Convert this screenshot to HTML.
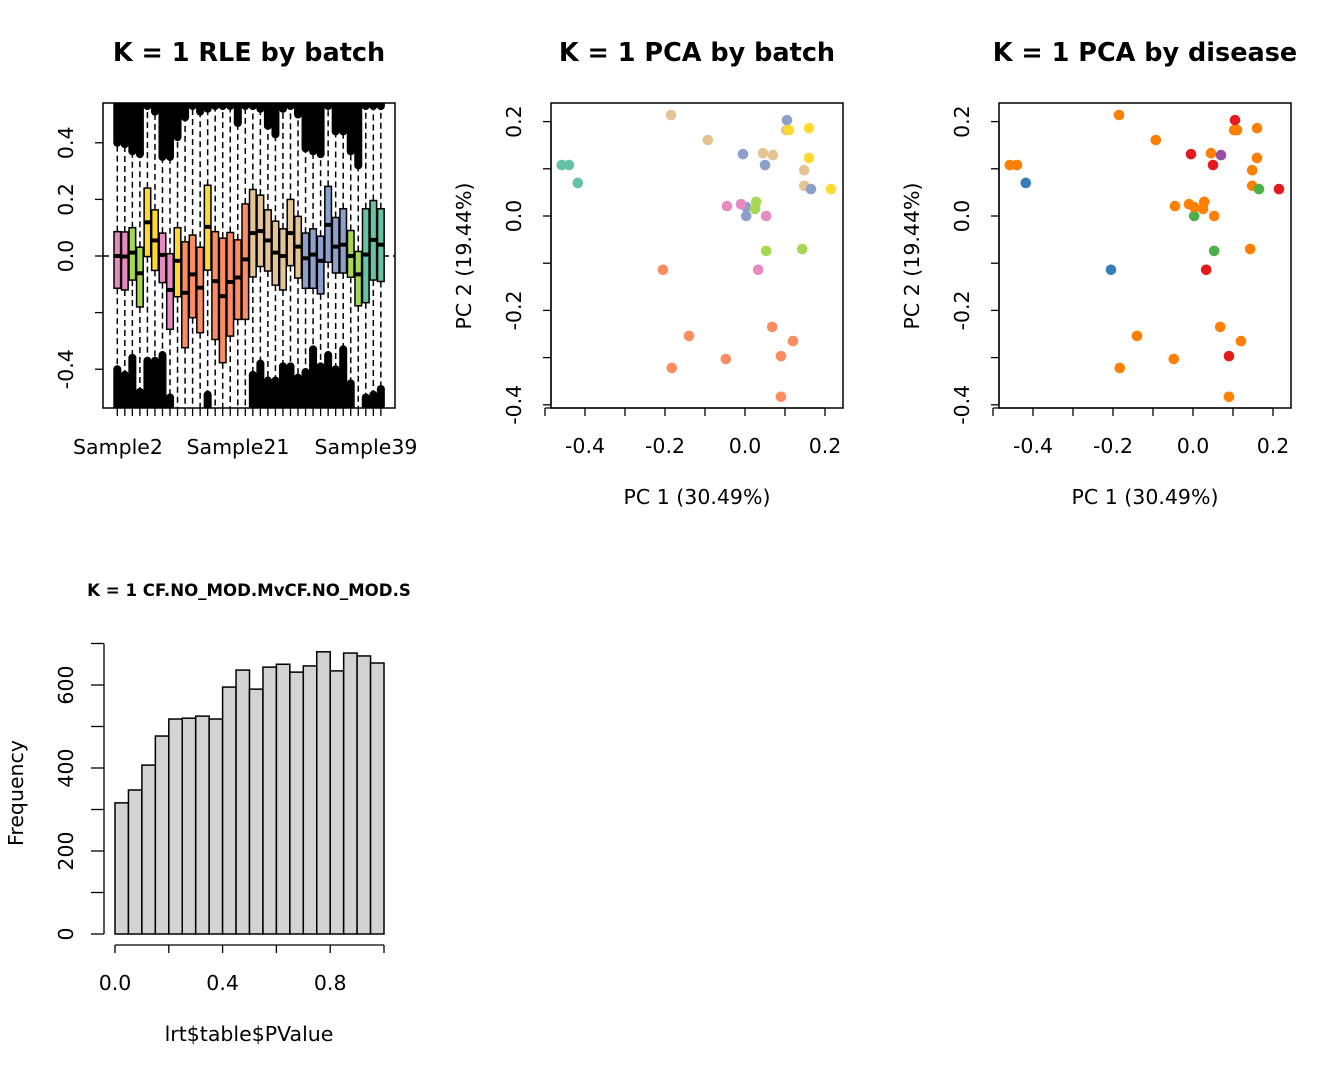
<!DOCTYPE html>
<html><head><meta charset="utf-8"><style>
html,body{margin:0;padding:0;background:#fff}
svg{display:block;font-family:"DejaVu Sans","Liberation Sans",sans-serif}
</style></head><body>
<svg id="c" width="1344" height="1075" viewBox="0 0 1344 1075">
<defs><clipPath id="rleclip"><rect x="103" y="103" width="292" height="305"/></clipPath></defs>
</svg>
<script>
// ---------- RLE data ----------
const rleColors = ["#E78AC3","#E78AC3","#A6D854","#A6D854","#FFD92F","#FFD92F","#E78AC3","#E78AC3","#FFD92F","#FC8D62","#FC8D62","#FC8D62","#FFD92F","#FC8D62","#FC8D62","#FC8D62","#FC8D62","#FC8D62","#E5C494","#E5C494","#E5C494","#E5C494","#E5C494","#E5C494","#E5C494","#8DA0CB","#8DA0CB","#8DA0CB","#8DA0CB","#8DA0CB","#8DA0CB","#A6D854","#A6D854","#66C2A5","#66C2A5","#66C2A5"];
const rleQ3 = [0.086,0.085,0.10,0.031,0.24,0.163,0.081,0.008,0.10,0.05,0.074,0.031,0.25,0.086,0.063,0.083,0.057,0.184,0.235,0.215,0.163,0.123,0.096,0.20,0.14,0.081,0.096,0.07,0.246,0.136,0.167,0.09,0.016,0.167,0.196,0.167];
const rleMed = [0,-0.002,0.012,-0.061,0.119,0.055,0.004,-0.12,-0.017,-0.13,-0.065,-0.112,0.103,-0.089,-0.142,-0.092,-0.076,-0.012,0.081,0.088,0.055,0.012,0,0.081,0.033,-0.008,0.005,-0.017,0.11,0.033,0.04,0,-0.065,0.005,0.057,0.04];
const rleQ1 = [-0.114,-0.12,-0.085,-0.18,-0.002,-0.051,-0.094,-0.259,-0.144,-0.324,-0.218,-0.271,-0.05,-0.295,-0.377,-0.283,-0.224,-0.224,-0.074,-0.037,-0.053,-0.103,-0.12,-0.034,-0.078,-0.114,-0.114,-0.134,-0.022,-0.06,-0.06,-0.075,-0.176,-0.165,-0.085,-0.09];
const rleUpperOut = [0.40,0.395,0.37,0.36,0.53,0.51,0.35,0.35,0.42,0.49,0.53,0.51,0.52,0.53,0.53,0.53,0.47,0.53,0.53,0.52,0.46,0.43,0.52,0.53,0.50,0.38,0.37,0.36,0.53,0.44,0.44,0.37,0.32,0.53,0.53,0.53];
const rleLowerOut = [-0.40,-0.42,-0.36,-0.48,-0.37,-0.37,-0.35,-0.50,-0.56,-0.56,-0.56,-0.56,-0.49,-0.56,-0.56,-0.56,-0.56,-0.56,-0.42,-0.38,-0.44,-0.44,-0.39,-0.39,-0.43,-0.41,-0.33,-0.39,-0.35,-0.40,-0.33,-0.45,-0.56,-0.50,-0.49,-0.47];
const rleTicks = [-0.4,-0.2,0.0,0.2,0.4];
// ---------- PCA data ----------
const pcX = [-0.458,-0.44,-0.418,-0.185,-0.093,0.045,0.07,0.103,0.148,0.148,0.105,-0.005,0.05,0.003,0.003,0.165,0.11,0.16,0.16,0.215,-0.045,-0.01,0.053,0.033,0.028,0.025,0.053,0.143,-0.205,-0.14,-0.183,-0.048,0.068,0.12,0.09,0.09];
const pcY = [0.108,0.108,0.07,0.214,0.161,0.133,0.129,0.182,0.097,0.064,0.203,0.131,0.108,0,0.019,0.057,0.182,0.186,0.123,0.057,0.021,0.025,0,-0.114,0.030,0.015,-0.074,-0.07,-0.114,-0.254,-0.322,-0.303,-0.235,-0.265,-0.297,-0.383];
const batchCol = ["#66C2A5","#66C2A5","#66C2A5","#E5C494","#E5C494","#E5C494","#E5C494","#E5C494","#E5C494","#E5C494","#8DA0CB","#8DA0CB","#8DA0CB","#8DA0CB","#8DA0CB","#8DA0CB","#FFD92F","#FFD92F","#FFD92F","#FFD92F","#E78AC3","#E78AC3","#E78AC3","#E78AC3","#A6D854","#A6D854","#A6D854","#A6D854","#FC8D62","#FC8D62","#FC8D62","#FC8D62","#FC8D62","#FC8D62","#FC8D62","#FC8D62"];
const diseaseCol = ["#FF7F00","#FF7F00","#377EB8","#FF7F00","#FF7F00","#FF7F00","#984EA3","#FF7F00","#FF7F00","#FF7F00","#E41A1C","#E41A1C","#E41A1C","#4DAF4A","#FF7F00","#4DAF4A","#FF7F00","#FF7F00","#FF7F00","#E41A1C","#FF7F00","#FF7F00","#FF7F00","#E41A1C","#FF7F00","#FF7F00","#4DAF4A","#FF7F00","#377EB8","#FF7F00","#FF7F00","#FF7F00","#FF7F00","#FF7F00","#E41A1C","#FF7F00"];
const pcXTicks = [-0.4,-0.2,0.0,0.2];
const pcYTicks = [-0.4,-0.2,0.0,0.2];
// ---------- Histogram data ----------
const histBreaks = [0,0.05,0.1,0.15,0.2,0.25,0.3,0.35,0.4,0.45,0.5,0.55,0.6,0.65,0.7,0.75,0.8,0.85,0.9,0.95,1.0];
const histCounts = [316,347,407,477,518,520,525,518,595,636,590,643,650,631,646,680,634,677,670,653];
const histXTicks = [0,0.2,0.4,0.6,0.8,1.0];
const histXLabels = ["0.0","","0.4","","0.8",""];
const histYTicks = [0,100,200,300,400,500,600,700];
const histYLabels = ["0","","200","","400","","600",""];

const svg = document.getElementById('c');
const NS = "http://www.w3.org/2000/svg";
const FS = 20.5;
function mk(tag, attrs, parent){const e=document.createElementNS(NS,tag);for(const k in attrs)e.setAttribute(k,attrs[k]);(parent||svg).appendChild(e);return e;}
function txt(s,x,y,size,opts,parent){const t=mk('text',Object.assign({x:x,y:y,'font-size':size,'text-anchor':'middle',fill:'#000'},opts||{}),parent);t.textContent=s;return t;}

// ===== RLE panel =====
const rle = mk('g',{});


const rc = mk('g',{'clip-path':'url(#rleclip)'},rle);
const rY = v => 256 - v*283;
const rX = i => 117.3 + i*7.53;
const R_TOP=103, R_BOT=408;
for(let i=0;i<rleQ3.length;i++){
  const x=rX(i);
  const up = mk('rect',{x:x-4,y:R_TOP-5,width:8,height:Math.max(0,rY(rleUpperOut[i])-R_TOP+5),fill:'#000'},rc);
  
  
  mk('circle',{cx:x,cy:rY(rleUpperOut[i]),r:4,fill:'#000'},rc);
  const lo = mk('rect',{x:x-4,y:rY(rleLowerOut[i]),width:8,height:Math.max(0,R_BOT-rY(rleLowerOut[i])+5),fill:'#000'},rc);
  
  
  mk('circle',{cx:x,cy:rY(rleLowerOut[i]),r:4,fill:'#000'},rc);
  mk('line',{x1:x,x2:x,y1:rY(rleQ3[i]),y2:rY(rleUpperOut[i]),stroke:'#000','stroke-width':1.5,'stroke-dasharray':'6,4'},rc);
  mk('line',{x1:x,x2:x,y1:rY(rleQ1[i]),y2:rY(rleLowerOut[i]),stroke:'#000','stroke-width':1.5,'stroke-dasharray':'6,4'},rc);
}
mk('line',{x1:103,x2:395,y1:rY(0),y2:rY(0),stroke:'#000','stroke-width':1.5,'stroke-dasharray':'6,4'},rc);
for(let i=0;i<rleQ3.length;i++){
  const x=rX(i);
  const b = mk('rect',{x:x-3.3,y:rY(rleQ3[i]),width:6.6,height:rY(rleQ1[i])-rY(rleQ3[i]),fill:rleColors[i],stroke:'#000','stroke-width':1.5},rle);
  
  
  mk('line',{x1:x-3.3,x2:x+3.3,y1:rY(rleMed[i]),y2:rY(rleMed[i]),stroke:'#000','stroke-width':4},rle);
  mk('line',{x1:x,x2:x,y1:R_BOT,y2:R_BOT+8,stroke:'#000','stroke-width':1.3},rle);
}
mk('rect',{x:103,y:103,width:292,height:305,fill:'none',stroke:'#000','stroke-width':1.5},rle);
mk('line',{x1:rX(0),x2:rX(rleQ3.length-1),y1:R_BOT,y2:R_BOT,stroke:'#000','stroke-width':1},rle);
rleTicks.forEach(v=>{
  mk('line',{x1:95,x2:103,y1:rY(v),y2:rY(v),stroke:'#000','stroke-width':1.3},rle);
  if(v!==-0.2) txt(v.toFixed(1),0,0,FS,{transform:`translate(73,${rY(v)}) rotate(-90)`},rle);
});
txt('Sample2',118,454,FS,{},rle);
txt('Sample21',238,454,FS,{},rle);
txt('Sample39',366,454,FS,{},rle);
const t1=txt('K = 1 RLE by batch',249,61,25.5,{'font-weight':'bold'},rle);


// ===== PCA panels =====
function pca(ox, cols, title, name){
  const g = mk('g',{});
  
  
  const X = v => ox + 745 + v*400;
  const Y = v => 216 - v*472;
  for(let i=0;i<pcX.length;i++){
    const p = mk('circle',{cx:X(pcX[i]),cy:Y(pcY[i]),r:5.3,fill:cols[i]},g);
    
    
  }
  mk('rect',{x:ox+551,y:103,width:292,height:305,fill:'none',stroke:'#000','stroke-width':1.5},g);
  mk('line',{x1:X(-0.5),x2:X(0.2),y1:408,y2:408,stroke:'#000','stroke-width':1.3},g);
  for(let v=-0.5; v<=0.201; v+=0.1){
    mk('line',{x1:X(v),x2:X(v),y1:408,y2:416,stroke:'#000','stroke-width':1.3},g);
  }
  pcXTicks.forEach(v=>txt(v.toFixed(1),X(v),453,FS,{},g));
  mk('line',{x1:ox+551,x2:ox+551,y1:Y(-0.4),y2:Y(0.2),stroke:'#000','stroke-width':1.3},g);
  for(let v=-0.4; v<=0.201; v+=0.1){
    mk('line',{x1:ox+543,x2:ox+551,y1:Y(v),y2:Y(v),stroke:'#000','stroke-width':1.3},g);
  }
  pcYTicks.forEach(v=>txt(v.toFixed(1),0,0,FS,{transform:`translate(${ox+521},${Y(v)}) rotate(-90)`},g));
  txt('PC 1 (30.49%)',ox+697,504,FS,{},g);
  txt('PC 2 (19.44%)',0,0,FS,{transform:`translate(${ox+471},256) rotate(-90)`},g);
  const t=txt(title,ox+697,61,25.5,{'font-weight':'bold'},g);
  
}
pca(0,batchCol,'K = 1 PCA by batch','pca-batch-panel');
pca(448,diseaseCol,'K = 1 PCA by disease','pca-disease-panel');

// ===== Histogram =====
const h = mk('g',{});


const hX = v => 115 + v*269;
const hY = v => 934 - v*0.415;
for(let i=0;i<histCounts.length;i++){
  const b = mk('rect',{x:hX(histBreaks[i]),y:hY(histCounts[i]),width:hX(histBreaks[i+1])-hX(histBreaks[i]),height:hY(0)-hY(histCounts[i]),fill:'#D3D3D3',stroke:'#000','stroke-width':1.5},h);
  
  
}
mk('line',{x1:hX(0),x2:hX(1),y1:945,y2:945,stroke:'#000','stroke-width':1.3},h);
histXTicks.forEach((v,i)=>{
  mk('line',{x1:hX(v),x2:hX(v),y1:945,y2:953,stroke:'#000','stroke-width':1.3},h);
  if(histXLabels[i]) txt(histXLabels[i],hX(v),990,FS,{},h);
});
mk('line',{x1:104,x2:104,y1:hY(0),y2:hY(700),stroke:'#000','stroke-width':1.3},h);
histYTicks.forEach((v,i)=>{
  mk('line',{x1:91,x2:104,y1:hY(v),y2:hY(v),stroke:'#000','stroke-width':1.3},h);
  if(histYLabels[i]) txt(histYLabels[i],0,0,FS,{transform:`translate(73,${hY(v)}) rotate(-90)`},h);
});
txt('lrt$table$PValue',249,1041,FS,{},h);
txt('Frequency',0,0,FS,{transform:'translate(23,793) rotate(-90)'},h);
const t3=txt('K = 1 CF.NO_MOD.MvCF.NO_MOD.S',249,596,16.6,{'font-weight':'bold'},h);

</script>
</body></html>
